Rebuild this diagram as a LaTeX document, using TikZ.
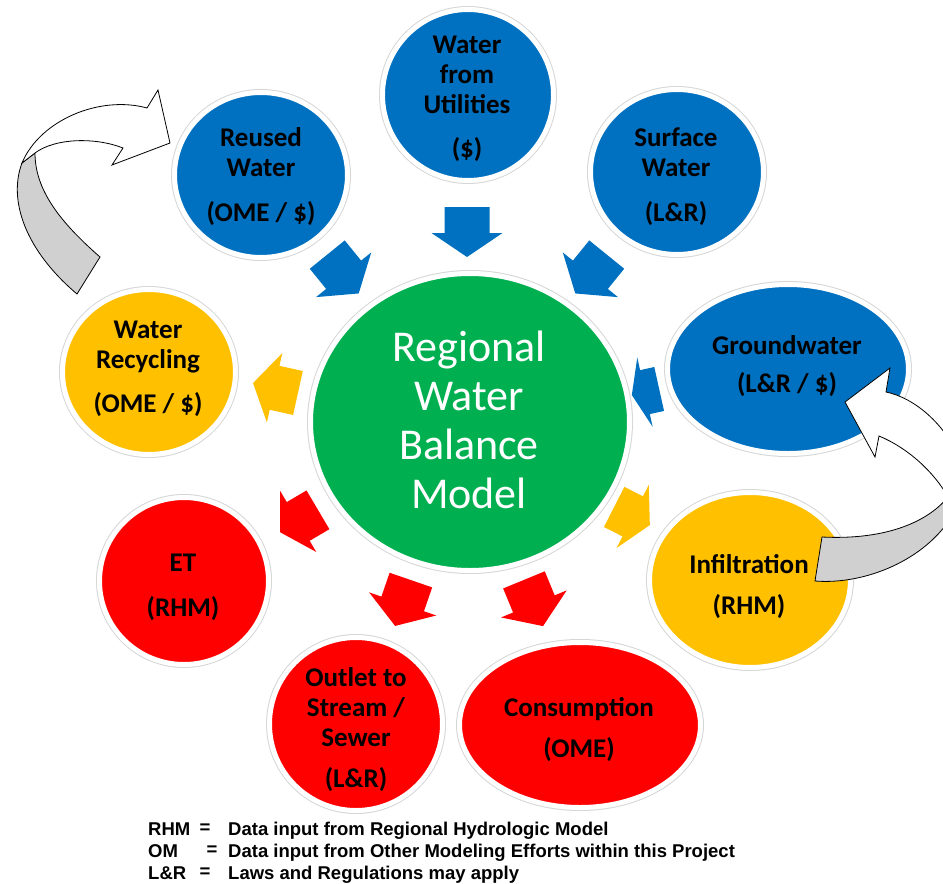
\documentclass[tikz,border=0pt]{standalone}
\usepackage{fontspec}
\setmainfont{Carlito}
\newfontfamily\legendfont{Liberation Sans}
\usetikzlibrary{shapes.geometric}
\definecolor{wblue}{HTML}{0070C0}
\definecolor{wgreen}{HTML}{00B050}
\definecolor{wgold}{HTML}{FFC000}
\definecolor{wred}{HTML}{FF0000}
\definecolor{ribbongray}{HTML}{D0D0D0}
\tikzset{
  bubble/.style={ellipse, inner sep=0pt,
    preaction={draw=black!16, line width=7pt},
    draw=white, line width=5pt},
  lbl/.style={align=center, inner sep=0pt, text=black,
    font=\bfseries\fontsize{27}{30}\selectfont},
  hubtext/.style={align=center, inner sep=0pt, text=white,
    font=\fontsize{44}{49}\selectfont},
  leg/.style={inner sep=0pt, font=\legendfont\bfseries\fontsize{18.5}{22}\selectfont},
  ribbon/.style={draw=black, line width=0.8pt, line join=miter},
}
% block arrow: centre x, centre y, direction angle, colour, length factor
\newcommand\flowarrow[5]{%
  \fill[#4, shift={(#1,#2)}, rotate=#3, xscale=#5]
    (-25,-22.5) -- (1,-22.5) -- (1,-35.5) -- (25,0) -- (1,35.5)
    -- (1,22.5) -- (-25,22.5) -- cycle;}
\begin{document}
\begin{tikzpicture}[x=1pt,y=-1pt]
\useasboundingbox (0,0) rectangle (943,884);

% central model
\node[bubble, fill=wgreen, minimum width=319pt, minimum height=297pt] (hub) at (470,422) {};
\node[hubtext] (hubT) at (469,420) {Regional\\Water\\Balance\\Model};

% sources and sinks
\node[bubble, fill=wblue, minimum width=171pt, minimum height=171pt] (util) at (468,95) {};
\node[bubble, fill=wblue, minimum width=173pt, minimum height=165pt] (reuse) at (261,175) {};
\node[bubble, fill=wblue, minimum width=173pt, minimum height=165pt] (surf) at (677,172) {};
\node[bubble, fill=wblue, minimum width=241pt, minimum height=169pt] (gw) at (788,369) {};
\node[bubble, fill=wgold, minimum width=173pt, minimum height=165pt] (recyc) at (149,372) {};
\node[bubble, fill=wred, minimum width=169pt, minimum height=167pt] (et) at (184,581) {};
\node[bubble, fill=wgold, minimum width=201pt, minimum height=175pt] (infil) at (750,580) {};
\node[bubble, fill=wred, minimum width=173pt, minimum height=173pt] (outlet) at (356,724) {};
\node[bubble, fill=wred, minimum width=241pt, minimum height=165pt] (cons) at (580,725) {};

\node[lbl] (utilT) at (467,99) {Water\\from\\Utilities\\[14pt](\$)};
\node[lbl] (reuseT) at (261,176.5) {Reused\\Water\\[15pt](OME / \$)};
\node[lbl] (surfT) at (676,176.5) {Surface\\Water\\[15pt](L\&R)};
\node[lbl] (gwT) at (787,366) {Groundwater\\[8pt](L\&R / \$)};
\node[lbl] (recycT) at (148,368.5) {Water\\Recycling\\[14pt](OME / \$)};
\node[lbl] (etT) at (183,587.5) {ET\\[15pt](RHM)};
\node[lbl] (infilT) at (749,586.5) {Infiltration\\[11pt](RHM)};
\node[lbl] (outletT) at (356,730) {Outlet to\\Stream /\\Sewer\\[11pt](L\&R)};
\node[lbl] (consT) at (579,729.5) {Consumption\\[11pt](OME)};

% flows into and out of the model
\flowarrow{467}{232}{-90}{wblue}{1}
\flowarrow{343}{274}{-51}{wblue}{1}
\flowarrow{591}{274}{-129}{wblue}{1}
\flowarrow{645.5}{392}{-167.5}{wblue}{0.56}
\flowarrow{275.5}{388}{167.5}{wgold}{0.92}
\flowarrow{632}{516}{-27}{wgold}{0.8}
\flowarrow{299}{521}{-149.4}{wred}{0.88}
\flowarrow{403}{603}{-109}{wred}{0.97}
\flowarrow{533.5}{603}{-67.6}{wred}{1}

% curved return arrows
\begin{scope}
\clip (0,0) rectangle (943,884);
% recycling -> reused water
\filldraw[ribbon, fill=ribbongray] (22,163) .. controls (8,200) and (25,250) .. (77,294)
  -- (100,257) .. controls (60,222) and (35,190) .. (35,153) -- cycle;
\filldraw[ribbon, fill=white] (22,163) .. controls (40,120) and (100,95) .. (147,108)
  -- (158,90) -- (170,143) -- (112,165) -- (123,148)
  .. controls (95,137) and (55,138) .. (35,153) -- cycle;
% infiltration -> groundwater
\filldraw[ribbon, fill=ribbongray] (822,537) .. controls (880,540) and (925,525) .. (948,497)
  -- (952,516) .. controls (925,560) and (865,585) .. (815,581) -- cycle;
\filldraw[ribbon, fill=white] (879,436) .. controls (908,448) and (934,472) .. (948,497)
  -- (965,497) -- (965,470) .. controls (948,425) and (915,398) .. (886,392)
  -- (890,368) -- (845,402) -- (875,457) -- cycle;
\end{scope}

% legend
\node[leg, anchor=base west] (k1) at (148,835.5) {RHM};
\node[leg] (e1) at (205,829) {=};
\node[leg, anchor=base west] (d1) at (228,835.5) {Data input from Regional Hydrologic Model};
\node[leg, anchor=base west] (k2) at (148,857.5) {OM};
\node[leg] (e2) at (212,851) {=};
\node[leg, anchor=base west] (d2) at (228,857.5) {Data input from Other Modeling Efforts within this Project};
\node[leg, anchor=base west] (k3) at (148,879.5) {L\&R};
\node[leg] (e3) at (205,873) {=};
\node[leg, anchor=base west] (d3) at (228,879.5) {Laws and Regulations may apply};
\end{tikzpicture}
\end{document}
